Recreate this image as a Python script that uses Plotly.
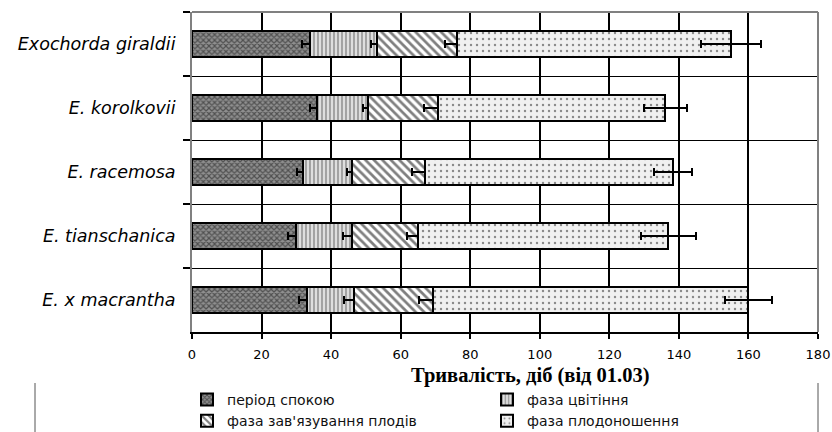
import plotly.graph_objects as go

species = ["Exochorda giraldii", "E. korolkovii", "E. racemosa", "E. tianschanica", "E. x macrantha"]
phase_names = ["період спокою", "фаза цвітіння", "фаза зав'язування плодів", "фаза плодоношення"]

dormancy = [33.9, 35.8, 31.8, 29.9, 33.1]
flowering = [19.2, 14.9, 14.1, 16.0, 13.5]
fruit_set = [23.0, 20.1, 21.1, 19.1, 22.6]
fruiting = [78.9, 65.3, 71.3, 72.0, 90.8]

err_dormancy = [2.2, 1.9, 1.6, 2.3, 2.4]
err_flowering = [1.6, 1.4, 1.2, 2.4, 2.8]
err_fruit_set = [3.4, 4.1, 3.8, 3.2, 4.0]
err_fruiting = [8.5, 6.2, 5.4, 7.9, 6.7]

x_ticks = [0, 20, 40, 60, 80, 100, 120, 140, 160, 180]
x_title = "Тривалість, діб (від 01.03)"

series = [dormancy, flowering, fruit_set, fruiting]
errors = [err_dormancy, err_flowering, err_fruit_set, err_fruiting]
patterns = [
    dict(shape="x", size=4, solidity=0.5, fgcolor="#111111", bgcolor="#8f8f8f"),
    dict(shape="|", size=4, solidity=0.35, fgcolor="#333333", bgcolor="#dedede"),
    dict(shape="\\", size=6, solidity=0.45, fgcolor="#000000", bgcolor="#ffffff"),
    dict(shape=".", size=6, solidity=0.12, fgcolor="#222222", bgcolor="#f0f0f0"),
]

fig = go.Figure()
for name, vals, errs, pat in zip(phase_names, series, errors, patterns):
    fig.add_trace(go.Bar(
        y=species, x=vals, name=name, orientation="h",
        marker=dict(color=pat["bgcolor"], pattern=pat, line=dict(color="black", width=2)),
        error_x=dict(type="data", array=errs, color="black", thickness=2, width=4),
    ))

W, H = 832, 432
ml, mr, mt, mb = 192, 14, 12, 100
pw, ph = W - ml - mr, H - mt - mb

def px_x(p):
    return (p - ml) / pw

def px_y(p):
    return (H - mb - p) / ph

fig.update_layout(
    width=W, height=H,
    margin=dict(l=ml, r=mr, t=mt, b=mb, autoexpand=False),
    paper_bgcolor="white", plot_bgcolor="white",
    barmode="stack", bargap=0.59,
    showlegend=True,
    legend=dict(
        orientation="h", x=px_x(187), xanchor="left", y=px_y(384), yanchor="top",
        font=dict(family="DejaVu Sans", size=14, color="#111111"),
        entrywidth=255, entrywidthmode="pixels", traceorder="normal",
        bgcolor="rgba(0,0,0,0)", tracegroupgap=0,
    ),
    xaxis=dict(
        range=[0, 180], tickvals=x_ticks, ticktext=[str(t) for t in x_ticks],
        ticks="outside", ticklen=5, tickcolor="black", tickwidth=1.5,
        showgrid=True, gridcolor="black", gridwidth=1.5, zeroline=False,
        showline=True, linecolor="black", linewidth=2,
        tickfont=dict(family="DejaVu Sans", size=13, color="black"),
        ticklabelstandoff=4,
    ),
    yaxis=dict(
        type="category", autorange="reversed", tickson="boundaries",
        ticks="outside", ticklen=7, tickcolor="black", tickwidth=1.5,
        showgrid=True, gridcolor="black", gridwidth=1,
        showline=True, linecolor="#808080", linewidth=2,
        tickfont=dict(family="DejaVu Sans", size=17.5, style="italic", color="black"),
        ticklabelstandoff=11,
    ),
    annotations=[dict(
        text="<b>" + x_title + "</b>", x=px_x(530), y=px_y(375), xref="paper", yref="paper",
        xanchor="center", yanchor="middle", showarrow=False,
        font=dict(family="Liberation Serif", size=20.5, color="black"),
    )],
    shapes=[
        dict(type="line", xref="paper", yref="paper", x0=0, x1=1, y0=1, y1=1,
             line=dict(color="#808080", width=2), layer="above"),
        dict(type="line", xref="paper", yref="paper", x0=1, x1=1, y0=0, y1=1,
             line=dict(color="#808080", width=2), layer="above"),
        dict(type="line", xref="paper", yref="paper", x0=px_x(35), x1=px_x(35), y0=px_y(383), y1=px_y(440),
             line=dict(color="#555555", width=1)),
        dict(type="line", xref="paper", yref="paper", x0=px_x(818), x1=px_x(818), y0=px_y(383), y1=px_y(440),
             line=dict(color="#555555", width=1)),
    ],
)

fig.write_html(
    "out.html",
    config={"displayModeBar": False},
    post_script="document.body.style.margin='0';document.body.style.overflow='hidden';",
)
